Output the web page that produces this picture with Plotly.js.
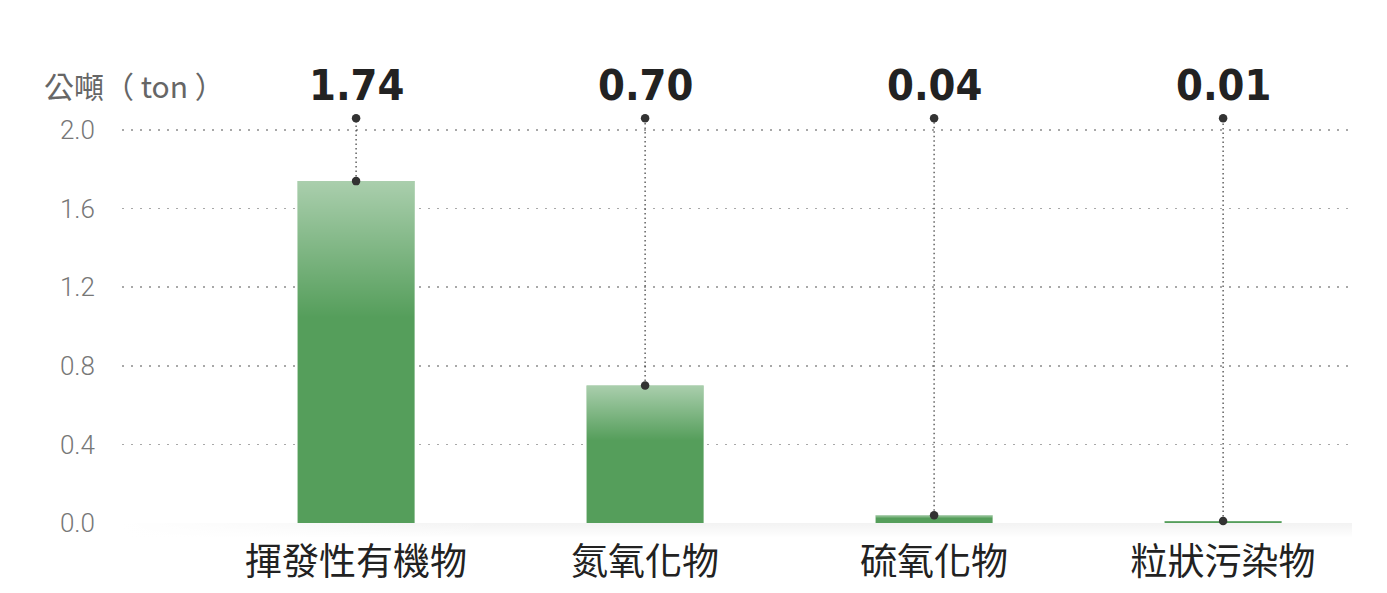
<!DOCTYPE html>
<html>
<head>
<meta charset="utf-8">
<script src="https://cdn.plot.ly/plotly-3.0.1.min.js"></script>
<style>
  html, body { margin: 0; padding: 0; background: #fff; }
  #chart { width: 1387px; height: 593px; }
</style>
</head>
<body>
<div id="chart"></div>
<script>
// emission data (tons)
const categories = ['揮發性有機物', '氮氧化物', '硫氧化物', '粒狀污染物'];
const values = [1.74, 0.70, 0.04, 0.01];
const yTicks = [0, 0.4, 0.8, 1.2, 1.6, 2.0];
const unitLabel = '公噸（ ton ）';

const GREEN = '#559e5b';
const DOT = '#333333';
const BAR_W = 0.405;
const DOT_TOP = 2.06;   // where the leader line starts, above the 2.0 grid
const LABEL_Y = 2.23;

const xs = categories.map((_, i) => i);

const traces = [];

// main bars
traces.push({
  type: 'bar', x: xs, y: values, width: BAR_W,
  marker: { color: GREEN, line: { width: 0 } },
  hoverinfo: 'skip',
});

// soft light fade on the upper third of each bar
values.forEach((v, i) => {
  const lo = v * 0.6;
  traces.push({
    type: 'scatter', mode: 'lines', fill: 'toself',
    x: [i - BAR_W / 2, i + BAR_W / 2, i + BAR_W / 2, i - BAR_W / 2, i - BAR_W / 2],
    y: [lo, lo, v, v, lo],
    line: { width: 0, color: 'rgba(0,0,0,0)' },
    fillgradient: {
      type: 'vertical',
      colorscale: [[0, 'rgba(255,255,255,0)'], [1, 'rgba(255,255,255,0.5)']],
    },
    hoverinfo: 'skip', showlegend: false,
  });
});

// dotted leader lines
values.forEach((v, i) => {
  traces.push({
    type: 'scatter', mode: 'lines',
    x: [i, i], y: [v, DOT_TOP],
    line: { color: '#3a3a3a', width: 1.2, dash: '1.5px,3px' },
    hoverinfo: 'skip', showlegend: false, cliponaxis: false,
  });
});

// end dots
traces.push({
  type: 'scatter', mode: 'markers',
  x: xs.concat(xs), y: values.concat(values.map(() => DOT_TOP)),
  marker: { color: DOT, size: 8.5 },
  hoverinfo: 'skip', showlegend: false, cliponaxis: false,
});

const shadowSvg = "<svg xmlns='http://www.w3.org/2000/svg' width='200' height='20' preserveAspectRatio='none'>" +
  "<defs><linearGradient id='v' x1='0' y1='0' x2='0' y2='1'>" +
  "<stop offset='0' stop-color='#000' stop-opacity='0.05'/><stop offset='1' stop-color='#000' stop-opacity='0'/></linearGradient>" +
  "<linearGradient id='h' x1='0' y1='0' x2='1' y2='0'>" +
  "<stop offset='0' stop-color='#fff' stop-opacity='1'/><stop offset='0.3' stop-color='#fff' stop-opacity='0'/></linearGradient></defs>" +
  "<rect width='200' height='20' fill='url(#v)'/><rect width='200' height='20' fill='url(#h)'/></svg>";

const annotations = values.map((v, i) => ({
  x: i, y: LABEL_Y, xref: 'x', yref: 'y',
  text: v.toFixed(2), showarrow: false,
  xanchor: 'center', yanchor: 'middle',
  font: { family: 'DejaVu Sans Condensed, Liberation Sans Narrow, Roboto', size: 43, color: '#222', weight: 700 },
}));
annotations.push({
  x: -0.065, y: LABEL_Y, xref: 'paper', yref: 'y',
  text: unitLabel, showarrow: false,
  xanchor: 'left', yanchor: 'middle',
  font: { family: 'Noto Sans CJK TC, Noto Sans', size: 30, color: '#666' },
});

const layout = {
  width: 1387, height: 593,
  paper_bgcolor: '#fff', plot_bgcolor: '#fff',
  margin: { l: 122, r: 35, t: 20, b: 70 },
  showlegend: false,
  xaxis: {
    range: [-0.81, 3.446],
    tickvals: xs, ticktext: categories,
    showgrid: false, zeroline: false, showline: false, ticks: '',
    tickfont: { family: 'Noto Sans CJK TC', size: 37, color: '#222' },
    ticklabelstandoff: 14,
  },
  yaxis: {
    range: [0, 2.56],
    tickvals: yTicks, ticktext: yTicks.map(t => t.toFixed(1)),
    showgrid: true, gridcolor: '#a8a8a8', griddash: '2px,7px', gridwidth: 1.5,
    zeroline: true, zerolinecolor: 'rgba(0,0,0,0)',
    showline: false, ticks: '',
    tickfont: { family: 'Roboto', size: 26, color: '#777', weight: 300 },
    ticklabelstandoff: 26,
  },
  images: [{
    source: 'data:image/svg+xml;charset=utf-8,' + encodeURIComponent(shadowSvg),
    xref: 'paper', yref: 'paper', x: 0, y: 0, sizex: 1, sizey: 0.03,
    xanchor: 'left', yanchor: 'top', sizing: 'stretch', layer: 'above',
  }],
  annotations,
};

Plotly.newPlot('chart', traces, layout, { displayModeBar: false, staticPlot: true });
</script>
</body>
</html>
